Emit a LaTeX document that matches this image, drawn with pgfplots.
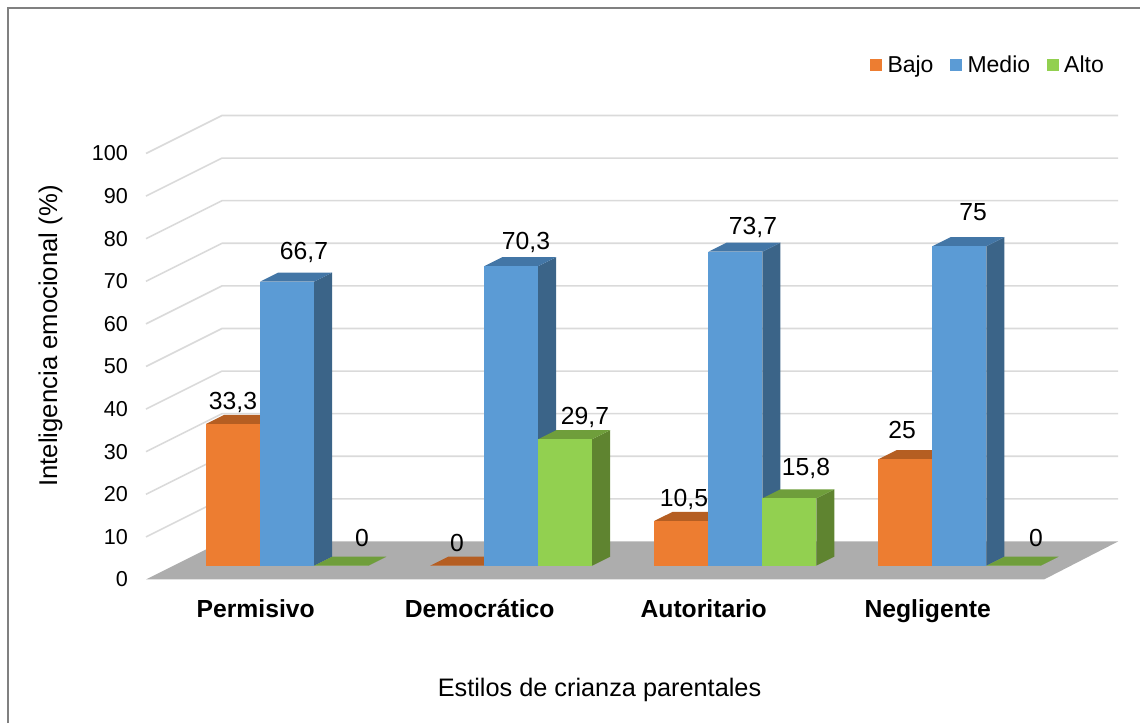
\documentclass[border=0pt]{standalone}
\usepackage{pgfplots}
\pgfplotsset{compat=1.18}
\usepackage{fontspec}
\setmainfont{Liberation Sans}
\definecolor{oF}{HTML}{ED7D31}\definecolor{oS}{HTML}{9E5322}\definecolor{oT}{HTML}{B55E22}
\definecolor{bF}{HTML}{5B9BD5}\definecolor{bS}{HTML}{3B6488}\definecolor{bT}{HTML}{4376A6}
\definecolor{gF}{HTML}{92D050}\definecolor{gS}{HTML}{5F8430}\definecolor{gT}{HTML}{6F9E3B}
\definecolor{floorc}{HTML}{ADADAD}\definecolor{gridc}{HTML}{DADADA}\definecolor{framec}{HTML}{808080}
% x0 value front side top
\newcommand\cubebar[5]{%
  \pgfmathsetmacro\xm{#1+27}\pgfmathsetmacro\xa{#1+54}\pgfmathsetmacro\xb{#1+72}%
  \pgfmathsetmacro\xc{#1+18}\pgfmathsetmacro\vb{#2+2.11}%
  \addplot[forget plot,fill=#4,draw=none] coordinates {(\xa,0) (\xb,2.11) (\xb,\vb) (\xa,#2)} --cycle;
  \addplot[forget plot,fill=#5,draw=none] coordinates {(#1,#2) (\xa,#2) (\xb,\vb) (\xc,\vb)} --cycle;
  \addplot[forget plot,ybar,bar width=54pt,bar shift=0pt,fill=#3,draw=none] coordinates {(\xm,#2)};
}
\newcommand\gridl[2]{\addplot[forget plot,gridc,line width=1.6pt] coordinates {(146,#1) (222,#2) (1118,#2)};}
\begin{document}
\begin{tikzpicture}
\useasboundingbox (0,0) rectangle (1140pt,723pt);
\begin{axis}[
  scale only axis,width=1140pt,height=723pt,
  xmin=0,xmax=1140,ymin=-33.685,ymax=136.03,
  clip=false,
  axis line style={draw=none},tick style={draw=none},
  major tick length=0pt,
  ytick={0,10,...,100},
  yticklabel style={anchor=east,xshift=128pt,inner sep=0pt,font=\fontsize{21.6}{26}\selectfont},
  /pgf/number format/assume math mode=true,
  xtick={255.7,479.7,703.7,927.7},
  xticklabels={Permisivo,Democrático,Autoritario,Negligente},
  xticklabel style={anchor=base,yshift=106pt,inner sep=0pt,font=\fontsize{24.7}{30}\selectfont\bfseries},
  every axis x label/.style={at={(axis cs:599.5,-27.35)},anchor=base},
  every axis y label/.style={at={(axis cs:57,57.16)},rotate=90,anchor=base},
  xlabel={Estilos de crianza parentales},
  ylabel={Inteligencia emocional (\%)},
  xlabel style={font=\fontsize{25.3}{30}\selectfont},
  ylabel style={font=\fontsize{25.7}{30}\selectfont},
]
\gridl{10}{18.92}\gridl{20}{28.92}\gridl{30}{38.92}\gridl{40}{48.92}\gridl{50}{58.92}
\gridl{60}{68.92}\gridl{70}{78.92}\gridl{80}{88.92}\gridl{90}{98.92}\gridl{100}{108.92}
\addplot[forget plot,fill=floorc,draw=none] coordinates {(146,0) (1044,0) (1118,8.92) (222,8.92)} --cycle;
\draw[framec,line width=2pt] (axis cs:8,-33.685) -- (axis cs:8,134.2) -- (axis cs:1140,134.2);
\end{axis}
\begin{axis}[
  scale only axis,width=1140pt,height=723pt,
  xmin=0,xmax=1140,ymin=-36.925,ymax=132.79,
  clip=false,hide axis,
  legend columns=3,
  legend style={at={(axis cs:870,117.5)},anchor=west,draw=none,fill=none,inner sep=0pt,outer sep=0pt,
    font=\fontsize{23}{26}\selectfont,
    /tikz/every even column/.append style={column sep=14pt},
    nodes={inner sep=2.5pt}},
  legend image code/.code={\fill[#1] (0pt,-6pt) rectangle (12pt,6pt);\path (15pt,0pt);},
  every node near coord/.style={anchor=base,inner sep=0pt,text=black,font=\fontsize{24.7}{30}\selectfont},
]
\cubebar{206.2}{33.3}{oF}{oS}{oT}
\cubebar{260.2}{66.7}{bF}{bS}{bT}
\cubebar{314.2}{0}{gF}{gS}{gT}
\cubebar{430.2}{0}{oF}{oS}{oT}
\cubebar{484.2}{70.3}{bF}{bS}{bT}
\cubebar{538.2}{29.7}{gF}{gS}{gT}
\cubebar{654.3}{10.5}{oF}{oS}{oT}
\cubebar{708.3}{73.7}{bF}{bS}{bT}
\cubebar{762.3}{15.8}{gF}{gS}{gT}
\cubebar{878.4}{25}{oF}{oS}{oT}
\cubebar{932.4}{75}{bF}{bS}{bT}
\cubebar{986.4}{0}{gF}{gS}{gT}
\addplot[forget plot,draw=none,mark=none,nodes near coords,point meta=explicit symbolic]
 table[x=x,y=y,meta=l] {
x y l
233 36.78 33,3
304 71.99 66,7
362 4.46 0
457 3.29 0
526 74.18 70,3
585 33.1 29,7
684 14.01 10,5
753 77.63 73,7
806 21.13 15,8
902 29.74 25
973 80.92 75
1036 4.46 0
};
\addlegendimage{fill=oF,draw=none}\addlegendentry{Bajo}
\addlegendimage{fill=bF,draw=none}\addlegendentry{Medio}
\addlegendimage{fill=gF,draw=none}\addlegendentry{Alto}
\end{axis}
\end{tikzpicture}
\end{document}
